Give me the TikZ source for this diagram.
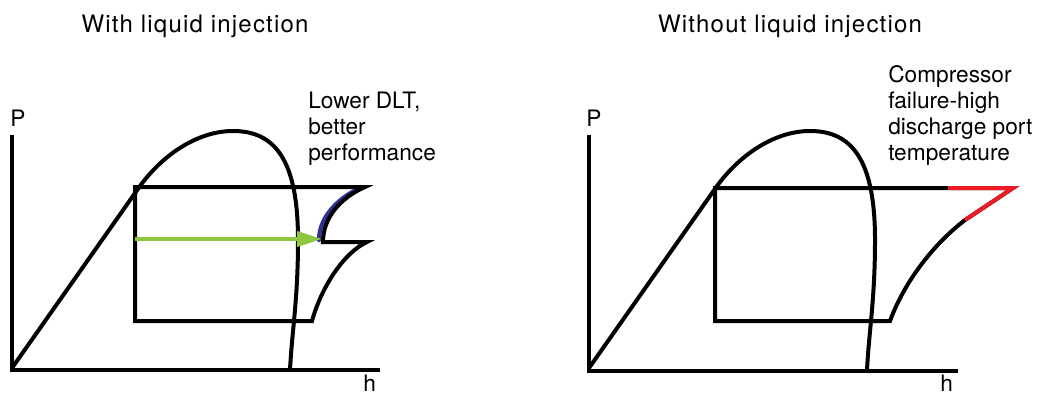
\documentclass[tikz,border=0pt]{standalone}
\usepackage{fontspec}
\setmainfont{TeX Gyre Heros}
\usetikzlibrary{arrows.meta}
\definecolor{injgreen}{HTML}{8DC63F}
\definecolor{dltblue}{HTML}{2E3192}
\definecolor{hotred}{HTML}{ED1C24}
\tikzset{
  thick line/.style={line width=3pt, line join=miter, line cap=butt},
  title text/.style={font=\fontsize{18pt}{21pt}\selectfont\addfontfeatures{LetterSpace=5}, inner sep=0pt, anchor=base},
  note text/.style={font=\fontsize{17pt}{19.5pt}\selectfont, inner sep=0pt, anchor=north west, align=left},
  axis label/.style={font=\fontsize{17pt}{20pt}\selectfont, inner sep=0pt, anchor=base west},
}
\begin{document}
\begin{tikzpicture}[x=0.75pt,y=-0.75pt]
\useasboundingbox (0,0) rectangle (1037,396);

% ---------- titles ----------
\node[title text] (titleL) at (195,32) {With liquid injection};
\node[title text] (titleR) at (790,32) {Without liquid injection};

% ---------- left diagram ----------
\coordinate (originL) at (12,370);
\draw[thick line] (12,135) -- (originL) -- (380,370);
\node[axis label] (PL) at (10,126) {P};
\node[axis label] (hL) at (363,391) {h};

% saturation dome
\draw[thick line] (12,368) -- (140,186) .. controls (165,152) and (200,131) .. (233,131)
  .. controls (275,131) and (298,160) .. (298,240)
  .. controls (298,300) and (292,330) .. (290,370);

% blue segment (under)
\draw[line width=3.2pt, dltblue, line cap=round] (354,191) .. controls (334,202) and (319,220) .. (319,240);

% cycle
\draw[thick line] (135,187) -- (365,187)
  .. controls (340,198) and (323,218) .. (323,242)
  -- (367,242)
  .. controls (345,252) and (322,285) .. (312,321)
  -- (135,321) -- cycle;

% green arrow
\coordinate (arrowstart) at (135,239);
\coordinate (arrowend) at (322,239);
\draw[line width=3pt, injgreen, -{Triangle[length=18.75pt,width=11.25pt]}] (arrowstart) -- (arrowend);

\node[note text] (noteL) at (308,92) {Lower DLT,\\better\\performance};

% ---------- right diagram ----------
\begin{scope}[shift={(577,0)}]
\coordinate (originR) at (12,371);
\draw[thick line] (12,135) -- (originR) -- (381,371);
\draw[thick line] (12,368) -- (140,186) .. controls (165,152) and (200,131) .. (233,131)
  .. controls (275,131) and (298,160) .. (298,240)
  .. controls (298,300) and (292,330) .. (290,370);
\end{scope}
\node[axis label] (PR) at (586,126) {P};
\node[axis label] (hR) at (940,391) {h};

\draw[thick line] (715,188) -- (1013,188) -- (965,220)
  .. controls (935,243) and (905,280) .. (890,321)
  -- (715,321) -- cycle;
\draw[thick line, hotred] (948,188) -- (1013,188) -- (965,220);

\node[note text] (noteR) at (888,65) {Compressor\\failure-high\\discharge port\\temperature};
\end{tikzpicture}
\end{document}
